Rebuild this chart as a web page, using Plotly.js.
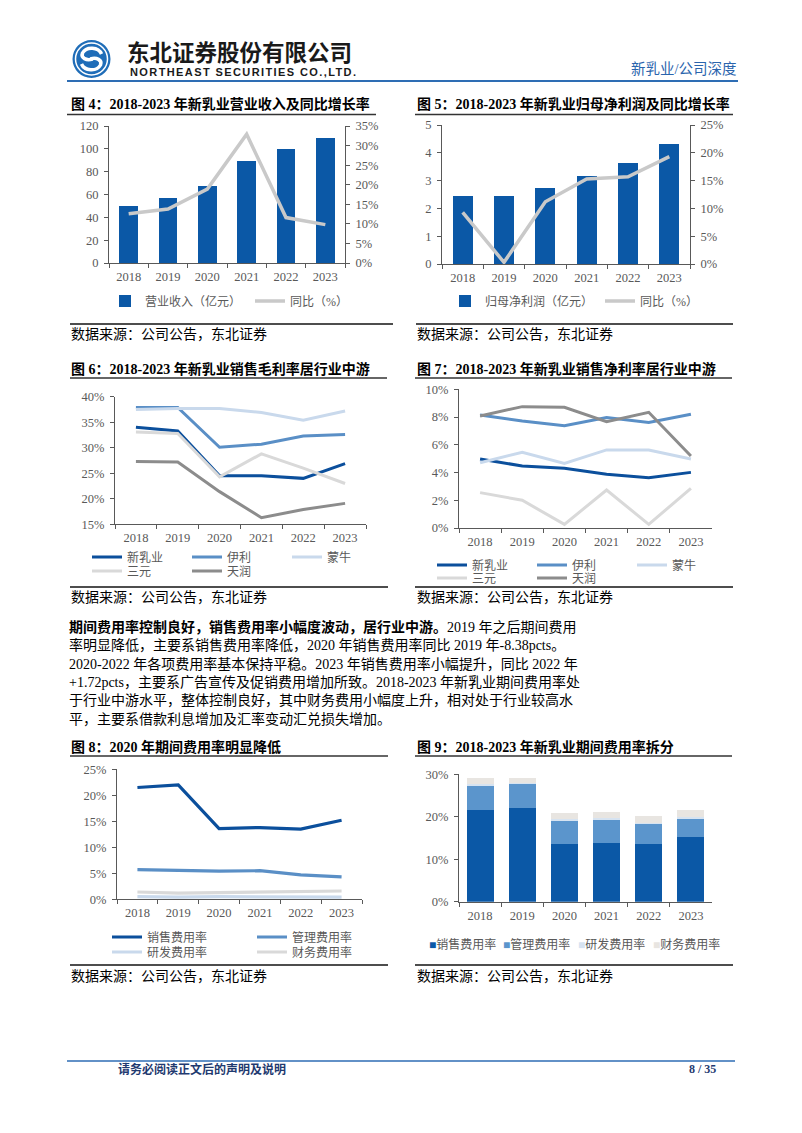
<!DOCTYPE html>
<html><head><meta charset="utf-8">
<script src="https://cdn.plot.ly/plotly-3.0.1.min.js"></script>
<style>html,body{margin:0;padding:0;background:#fff}#chart{width:802px;height:1133px}</style>
</head><body><div id="chart"></div>
<script>
// ---------------- DATA ----------------
const years = ['2018','2019','2020','2021','2022','2023'];
// 图4
const revenue = [49.9, 56.8, 67.5, 89.7, 100.1, 109.9];
const revenueYoY = [12.6, 13.8, 18.9, 32.9, 11.6, 9.8];
const revenueNames = ['营业收入（亿元）','同比（%）'];
// 图5
const netProfit = [2.45, 2.45, 2.74, 3.16, 3.65, 4.33];
const netProfitYoY = [9.3, 0.3, 11.2, 15.3, 15.7, 19.3];
const profitNames = ['归母净利润（亿元）','同比（%）'];
// 图6 销售毛利率
const companies = ['新乳业','伊利','蒙牛','三元','天润'];
const gmXinruye = [34.0, 33.3, 24.5, 24.5, 24.0, 26.9];
const gmYili = [37.9, 37.9, 30.1, 30.7, 32.3, 32.6];
const gmMengniu = [37.5, 37.7, 37.7, 36.9, 35.4, 37.2];
const gmSanyuan = [33.1, 32.8, 24.3, 28.8, 26.0, 23.0];
const gmTianrun = [27.3, 27.2, 21.4, 16.3, 17.9, 19.1];
// 图7 销售净利率
const nmXinruye = [4.98, 4.47, 4.30, 3.87, 3.63, 4.01];
const nmYili = [8.15, 7.72, 7.38, 7.96, 7.60, 8.20];
const nmMengniu = [4.71, 5.46, 4.66, 5.63, 5.63, 4.98];
const nmSanyuan = [2.55, 2.00, 0.26, 2.74, 0.26, 2.86];
const nmTianrun = [8.08, 8.75, 8.70, 7.67, 8.34, 5.19];
// 图8/图9 期间费用率
const expenseNames = ['销售费用率','管理费用率','研发费用率','财务费用率'];
const salesExp = [21.5, 22.0, 13.6, 13.8, 13.5, 15.2];
const adminExp = [5.7, 5.6, 5.4, 5.5, 4.7, 4.3];
const rdExp = [0.5, 0.4, 0.5, 0.5, 0.4, 0.4];
const finExp = [1.4, 1.2, 1.3, 1.4, 1.6, 1.6];

// ---------------- STYLE ----------------
const W = 802, H = 1133;
const px = x => x / W;
const py = y => 1 - y / H;
const AX = '#595959';
const BLUE = '#0b58a6';
const compColors = ['#0b4f9c', '#5a8fc6', '#c9d9ec', '#d9d9d9', '#8c8c8c'];
const expLineColors = ['#0b4f9c', '#5a8fc6', '#c9d9ec', '#d9d9d9'];
const expBarColors = ['#0b58a6', '#5b95cc', '#d6e3f1', '#e8e5e1'];
const SERIF = 'Liberation Serif, Noto Sans CJK SC, serif';
const tf = {family: SERIF, size: 12.5, color: '#595959'};
const lf = {family: SERIF, size: 12, color: '#595959'};

function xAxis(l, r, anchor) {
  return {domain: [px(l), px(r)], anchor, type: 'category', range: [-0.5, 5.5],
    showline: true, linecolor: AX, linewidth: 1, ticks: 'outside', tickson: 'boundaries',
    ticklen: 4, tickcolor: AX, tickfont: tf, showgrid: false, zeroline: false,
    ticklabelstandoff: 2, fixedrange: true};
}
function yAxis(top, bottom, anchor, range, dtick, suffix, extra) {
  return Object.assign({domain: [py(bottom), py(top)], anchor, range, dtick, tick0: range[0],
    ticksuffix: suffix || '', showline: true, linecolor: AX, linewidth: 1, ticks: 'outside',
    ticklen: 4, tickcolor: AX, tickfont: tf, showgrid: false, zeroline: false,
    ticklabelstandoff: 3, fixedrange: true}, extra || {});
}
function leg(x, y) {
  return {x: px(x), y: py(y), xanchor: 'left', yanchor: 'middle', orientation: 'h',
    traceorder: 'normal', font: lf, bgcolor: 'rgba(0,0,0,0)', borderwidth: 0,
    itemwidth: 30, tracegroupgap: 0};
}

// ---------------- TRACES ----------------
const traces = [];
// 图4
traces.push({type: 'bar', x: years, y: revenue, name: revenueNames[0], xaxis: 'x', yaxis: 'y',
  marker: {color: BLUE}, width: 0.48, legend: 'legend', legendwidth: 100});
traces.push({type: 'scatter', mode: 'lines', x: years, y: revenueYoY, name: revenueNames[1],
  xaxis: 'x', yaxis: 'y2', line: {color: '#c9c9c9', width: 3.5}, legend: 'legend'});
// 图5
traces.push({type: 'bar', x: years, y: netProfit, name: profitNames[0], xaxis: 'x2', yaxis: 'y3',
  marker: {color: BLUE}, width: 0.48, legend: 'legend2', legendwidth: 110});
traces.push({type: 'scatter', mode: 'lines', x: years, y: netProfitYoY, name: profitNames[1],
  xaxis: 'x2', yaxis: 'y4', line: {color: '#c9c9c9', width: 3.5}, legend: 'legend2'});
// 图6 & 图7
const gmSeries = [gmXinruye, gmYili, gmMengniu, gmSanyuan, gmTianrun];
const nmSeries = [nmXinruye, nmYili, nmMengniu, nmSanyuan, nmTianrun];
[0, 1, 2, 3, 4].forEach(i => {
  traces.push({type: 'scatter', mode: 'lines', x: years, y: gmSeries[i], name: companies[i],
    xaxis: 'x3', yaxis: 'y5', line: {color: compColors[i], width: 3},
    legend: i < 3 ? 'legend3' : 'legend4', legendwidth: 55});
});
[0, 1, 2, 3, 4].forEach(i => {
  traces.push({type: 'scatter', mode: 'lines', x: years, y: nmSeries[i], name: companies[i],
    xaxis: 'x4', yaxis: 'y6', line: {color: compColors[i], width: 3},
    legend: i < 3 ? 'legend5' : 'legend6', legendwidth: 55});
});
// 图8
const expSeries = [salesExp, adminExp, rdExp, finExp];
[0, 1, 2, 3].forEach(i => {
  traces.push({type: 'scatter', mode: 'lines', x: years, y: expSeries[i], name: expenseNames[i],
    xaxis: 'x5', yaxis: 'y7', line: {color: expLineColors[i], width: 3.2},
    legend: i < 2 ? 'legend7' : 'legend8', legendwidth: 100});
});
// 图9
[0, 1, 2, 3].forEach(i => {
  traces.push({type: 'bar', x: years, y: expSeries[i], name: expenseNames[i],
    xaxis: 'x6', yaxis: 'y8', marker: {color: expBarColors[i]}, width: 0.64, showlegend: false});
});

// ---------------- TEXT ----------------
const ann = [];
function txt(text, x, y, opts) {
  opts = opts || {};
  ann.push({text, x: px(x), y: py(y), xref: 'paper', yref: 'paper', showarrow: false,
    xanchor: opts.xanchor || 'left', yanchor: 'middle', borderpad: 0,
    font: {family: opts.family || SERIF, size: opts.size || 14, color: opts.color || '#000'}});
}
// header
txt('<b>东北证券股份有限公司</b>', 126, 51, {family: 'Noto Sans CJK SC, sans-serif', size: 22.5, color: '#1a1a1a'});
txt('<b><span style="letter-spacing:1.4px">NORTHEAST SECURITIES CO.,LTD.</span></b>', 129, 72, {family: 'Liberation Sans, Arial, sans-serif', size: 11, color: '#1a1a1a'});
txt('新乳业/公司深度', 738, 69, {xanchor: 'right', size: 14.5, color: '#2a64ad'});
// chart titles
const titles = [
  ['图 4：2018-2023 年新乳业营业收入及同比增长率', 70, 104],
  ['图 5：2018-2023 年新乳业归母净利润及同比增长率', 416, 104],
  ['图 6：2018-2023 年新乳业销售毛利率居行业中游', 70, 369],
  ['图 7：2018-2023 年新乳业销售净利率居行业中游', 416, 369],
  ['图 8：2020 年期间费用率明显降低', 70, 747],
  ['图 9：2018-2023 年新乳业期间费用率拆分', 416, 747]
];
titles.forEach(t => txt('<b>' + t[0] + '</b>', t[1], t[2], {size: 14}));
// sources
const SRC = '数据来源：公司公告，东北证券';
[[70, 334], [416, 334], [70, 598], [416, 598], [70, 976], [416, 976]].forEach(p => txt(SRC, p[0], p[1], {size: 14}));
// paragraph
const para = [
  '<b>期间费用率控制良好，销售费用率小幅度波动，居行业中游。</b>2019 年之后期间费用',
  '率明显降低，主要系销售费用率降低，2020 年销售费用率同比 2019 年-8.38pcts。',
  '2020-2022 年各项费用率基本保持平稳。2023 年销售费用率小幅提升，同比 2022 年',
  '+1.72pcts，主要系广告宣传及促销费用增加所致。2018-2023 年新乳业期间费用率处',
  '于行业中游水平，整体控制良好，其中财务费用小幅度上升，相对处于行业较高水',
  '平，主要系借款利息增加及汇率变动汇兑损失增加。'
];
para.forEach((l, i) => txt(l, 68, 627 + i * 18.3, {size: 14}));
// chart 9 legend (text labels with coloured squares)
const c9LegendX = [428, 502, 577, 652];
expenseNames.forEach((n, i) => txt('<span style="color:' + expBarColors[i] + '">■</span>' + n, c9LegendX[i], 944, {size: 12, color: '#595959'}));
// footer
txt('<b>请务必阅读正文后的声明及说明</b>', 117, 1069, {size: 12, color: '#1f3a70'});
txt('<b>8 / 35</b>', 717, 1069, {xanchor: 'right', size: 12, color: '#1f3a70'});

// ---------------- SHAPES ----------------
const shapes = [];
function hline(x0, x1, y, color, width) {
  shapes.push({type: 'line', xref: 'paper', yref: 'paper', x0: px(x0), x1: px(x1), y0: py(y), y1: py(y),
    line: {color, width}});
}
hline(67, 738, 81, '#2e6db4', 2);
hline(67, 376, 114.5, '#333', 1.5); hline(415, 733, 114.5, '#333', 1.5);
hline(70, 393, 324, '#4d4d4d', 2); hline(416, 733, 324, '#4d4d4d', 2);
hline(70, 387, 378, '#333', 1.5); hline(415, 732, 378, '#333', 1.5);
hline(70, 388, 587, '#4d4d4d', 2); hline(415, 733, 587, '#4d4d4d', 2);
hline(70, 388, 756, '#333', 1.5); hline(415, 732, 756, '#333', 1.5);
hline(70, 388, 965, '#4d4d4d', 2); hline(415, 733, 965, '#4d4d4d', 2);
hline(67, 735, 1061, '#2e6db4', 1.5);
// logo
const logoA = {xref: 'paper', yref: 'paper', xsizemode: 'pixel', ysizemode: 'pixel', xanchor: px(91.5), yanchor: py(59)};
shapes.push(Object.assign({type: 'circle', x0: -19, x1: 19, y0: -19, y1: 19, fillcolor: '#1f6db8', line: {width: 0}}, logoA));
shapes.push(Object.assign({type: 'circle', x0: -16, x1: 16, y0: -16, y1: 16, line: {color: '#fff', width: 1.5}}, logoA));
shapes.push(Object.assign({type: 'path', path: 'M 10,5 C 7,12 -5,13 -9,6 C -11,1 -5,-2 1,0', line: {color: '#fff', width: 3.5}}, logoA));
shapes.push(Object.assign({type: 'path', path: 'M -10,-5 C -7,-12 5,-13 9,-6 C 11,-1 5,2 -1,0', line: {color: '#fff', width: 3.5}}, logoA));

// ---------------- LAYOUT ----------------
const layout = {
  width: W, height: H, margin: {l: 0, r: 0, t: 0, b: 0}, autosize: false,
  paper_bgcolor: '#fff', plot_bgcolor: 'rgba(0,0,0,0)', barmode: 'stack', showlegend: true,
  font: {family: SERIF},
  xaxis: xAxis(109, 345, 'y'),
  yaxis: yAxis(126, 263, 'x', [0, 120], 20),
  yaxis2: yAxis(126, 263, 'x', [0, 35], 5, '%', {overlaying: 'y', side: 'right'}),
  xaxis2: xAxis(442, 690, 'y3'),
  yaxis3: yAxis(125, 264, 'x2', [0, 5], 1),
  yaxis4: yAxis(125, 264, 'x2', [0, 25], 5, '%', {overlaying: 'y3', side: 'right'}),
  xaxis3: xAxis(115, 366, 'y5'),
  yaxis5: yAxis(396.7, 524.3, 'x3', [15, 40], 5, '%'),
  xaxis4: xAxis(459, 712, 'y6'),
  yaxis6: yAxis(389.3, 528, 'x4', [0, 10], 2, '%'),
  xaxis5: xAxis(117, 362, 'y7'),
  yaxis7: yAxis(769.3, 899.3, 'x5', [0, 25], 5, '%'),
  xaxis6: xAxis(459, 712, 'y8'),
  yaxis8: yAxis(774.3, 901.7, 'x6', [0, 30], 10, '%'),
  legend: leg(105, 301),
  legend2: leg(445, 301),
  legend3: leg(87, 557),
  legend4: leg(87, 571),
  legend5: leg(432, 565),
  legend6: leg(432, 578),
  legend7: leg(107, 937),
  legend8: leg(107, 952),
  annotations: ann,
  shapes: shapes
};

Plotly.newPlot('chart', traces, layout, {displayModeBar: false, staticPlot: true});
</script>
</body></html>
